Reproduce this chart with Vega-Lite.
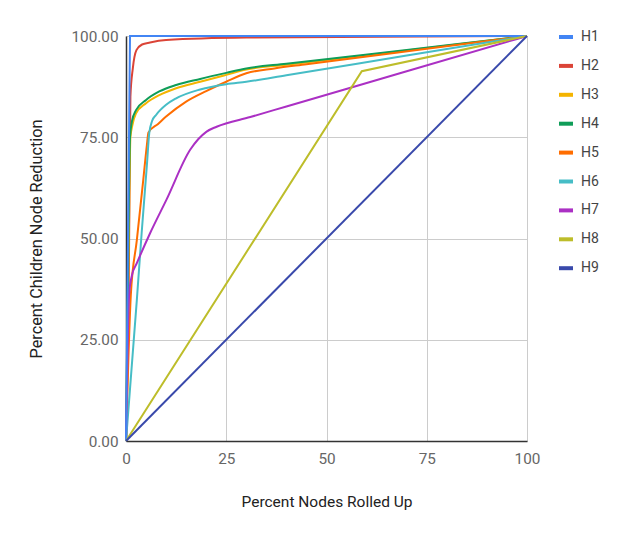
{
  "$schema": "https://vega.github.io/schema/vega-lite/v6.json",
  "width": 401,
  "height": 405,
  "autosize": "none",
  "padding": {"left": 126, "top": 36, "right": 100, "bottom": 98},
  "background": "white",
  "config": {
    "font": "Roboto",
    "view": {"stroke": null},
    "axis": {
      "labelFont": "Roboto", "labelFontSize": 15.3, "labelColor": "#666666",
      "titleFont": "Roboto", "titleFontSize": 15.5, "titleFontWeight": "normal", "titleColor": "#222222",
      "gridColor": "#cccccc", "domainColor": "#333333", "domainWidth": 1.5, "ticks": false,
      "labelFlush": false
    }
  },
  "data": {"values": [
    {"s": "H1", "x": 0, "y": 0}, {"s": "H1", "x": 1, "y": 100}, {"s": "H1", "x": 100, "y": 100},
    {"s": "H2", "x": 0, "y": 0}, {"s": "H2", "x": 0.7, "y": 40}, {"s": "H2", "x": 1.1, "y": 85}, {"s": "H2", "x": 1.7, "y": 92}, {"s": "H2", "x": 2.6, "y": 96.5}, {"s": "H2", "x": 4, "y": 97.9}, {"s": "H2", "x": 6, "y": 98.4}, {"s": "H2", "x": 10, "y": 99}, {"s": "H2", "x": 30, "y": 99.6}, {"s": "H2", "x": 100, "y": 100},
    {"s": "H3", "x": 0, "y": 0}, {"s": "H3", "x": 0.7, "y": 50}, {"s": "H3", "x": 1.1, "y": 75}, {"s": "H3", "x": 1.6, "y": 78}, {"s": "H3", "x": 2.5, "y": 80.9}, {"s": "H3", "x": 5, "y": 83.4}, {"s": "H3", "x": 8.3, "y": 85.4}, {"s": "H3", "x": 12.5, "y": 87.1}, {"s": "H3", "x": 18.5, "y": 88.7}, {"s": "H3", "x": 25, "y": 90.4}, {"s": "H3", "x": 30, "y": 91.7}, {"s": "H3", "x": 40, "y": 92.89}, {"s": "H3", "x": 70, "y": 96.44}, {"s": "H3", "x": 100, "y": 100},
    {"s": "H4", "x": 0, "y": 0}, {"s": "H4", "x": 0.6, "y": 50}, {"s": "H4", "x": 1.0, "y": 75}, {"s": "H4", "x": 1.5, "y": 79}, {"s": "H4", "x": 2.5, "y": 81.7}, {"s": "H4", "x": 5, "y": 84.2}, {"s": "H4", "x": 8.3, "y": 86.3}, {"s": "H4", "x": 12.5, "y": 87.9}, {"s": "H4", "x": 18.5, "y": 89.4}, {"s": "H4", "x": 25, "y": 90.9}, {"s": "H4", "x": 30, "y": 92}, {"s": "H4", "x": 40, "y": 93.14}, {"s": "H4", "x": 70, "y": 96.57}, {"s": "H4", "x": 100, "y": 100},
    {"s": "H5", "x": 0, "y": 0}, {"s": "H5", "x": 1.2, "y": 36}, {"s": "H5", "x": 2.7, "y": 49.6}, {"s": "H5", "x": 4.3, "y": 64.4}, {"s": "H5", "x": 5.2, "y": 73}, {"s": "H5", "x": 5.6, "y": 76.2}, {"s": "H5", "x": 8, "y": 78.3}, {"s": "H5", "x": 10, "y": 80.1}, {"s": "H5", "x": 15, "y": 83.8}, {"s": "H5", "x": 20, "y": 86.4}, {"s": "H5", "x": 25, "y": 88.7}, {"s": "H5", "x": 30, "y": 90.8}, {"s": "H5", "x": 37, "y": 92}, {"s": "H5", "x": 45, "y": 93.02}, {"s": "H5", "x": 75, "y": 96.83}, {"s": "H5", "x": 100, "y": 100},
    {"s": "H6", "x": 0, "y": 0}, {"s": "H6", "x": 2.7, "y": 34.8}, {"s": "H6", "x": 3.9, "y": 51.3}, {"s": "H6", "x": 5.2, "y": 68}, {"s": "H6", "x": 5.8, "y": 76}, {"s": "H6", "x": 6.5, "y": 79}, {"s": "H6", "x": 7.5, "y": 80.5}, {"s": "H6", "x": 10, "y": 83}, {"s": "H6", "x": 12.5, "y": 84.6}, {"s": "H6", "x": 18.5, "y": 86.8}, {"s": "H6", "x": 25, "y": 88.1}, {"s": "H6", "x": 30, "y": 88.7}, {"s": "H6", "x": 40, "y": 90.31}, {"s": "H6", "x": 70, "y": 95.16}, {"s": "H6", "x": 100, "y": 100},
    {"s": "H7", "x": 0, "y": 0}, {"s": "H7", "x": 0.8, "y": 36.5}, {"s": "H7", "x": 1.5, "y": 41}, {"s": "H7", "x": 2.7, "y": 43.9}, {"s": "H7", "x": 6, "y": 51.3}, {"s": "H7", "x": 10.1, "y": 59.6}, {"s": "H7", "x": 16, "y": 71.9}, {"s": "H7", "x": 18, "y": 74.5}, {"s": "H7", "x": 20.1, "y": 76.4}, {"s": "H7", "x": 22.6, "y": 77.6}, {"s": "H7", "x": 31, "y": 80}, {"s": "H7", "x": 40, "y": 82.61}, {"s": "H7", "x": 70, "y": 91.3}, {"s": "H7", "x": 100, "y": 100},
    {"s": "H8", "x": 0, "y": 0}, {"s": "H8", "x": 58.8, "y": 91.3}, {"s": "H8", "x": 100, "y": 100},
    {"s": "H9", "x": 0, "y": 0}, {"s": "H9", "x": 100, "y": 100}
  ]},
  "encoding": {
    "x": {"field": "x", "type": "quantitative", "scale": {"domain": [0, 100], "nice": false},
      "axis": {"values": [0, 25, 50, 75, 100], "title": "Percent Nodes Rolled Up", "labelPadding": 10, "titlePadding": 28}},
    "y": {"field": "y", "type": "quantitative", "scale": {"domain": [0, 100], "nice": false},
      "axis": {"values": [0, 25, 50, 75, 100], "format": ".2f", "title": "Percent Children Node Reduction", "titleFontSize": 16.3, "labelPadding": 8, "titlePadding": 26}},
    "color": {"field": "s", "type": "nominal",
      "scale": {"domain": ["H1","H2","H3","H4","H5","H6","H7","H8","H9"],
        "range": ["#4285F4","#DB4437","#F4B400","#0F9D58","#FF6D00","#46BDC6","#AB30C4","#BDBD2A","#3949AB"]},
      "legend": {"title": null, "orient": "none", "legendX": 431, "legendY": -8,
        "symbolType": "stroke", "symbolSize": 196, "symbolStrokeWidth": 4, "labelFontSize": 14,
        "labelColor": "#444444", "labelFont": "Roboto", "labelOffset": 6, "rowPadding": 11.9}}
  },
  "layer": [
    {"transform": [{"filter": "indexof(['H1','H8','H9'], datum.s) < 0"}],
     "mark": {"type": "line", "interpolate": "monotone", "strokeWidth": 2}},
    {"transform": [{"filter": "indexof(['H1','H8','H9'], datum.s) >= 0"}],
     "mark": {"type": "line", "strokeWidth": 2}}
  ]
}
